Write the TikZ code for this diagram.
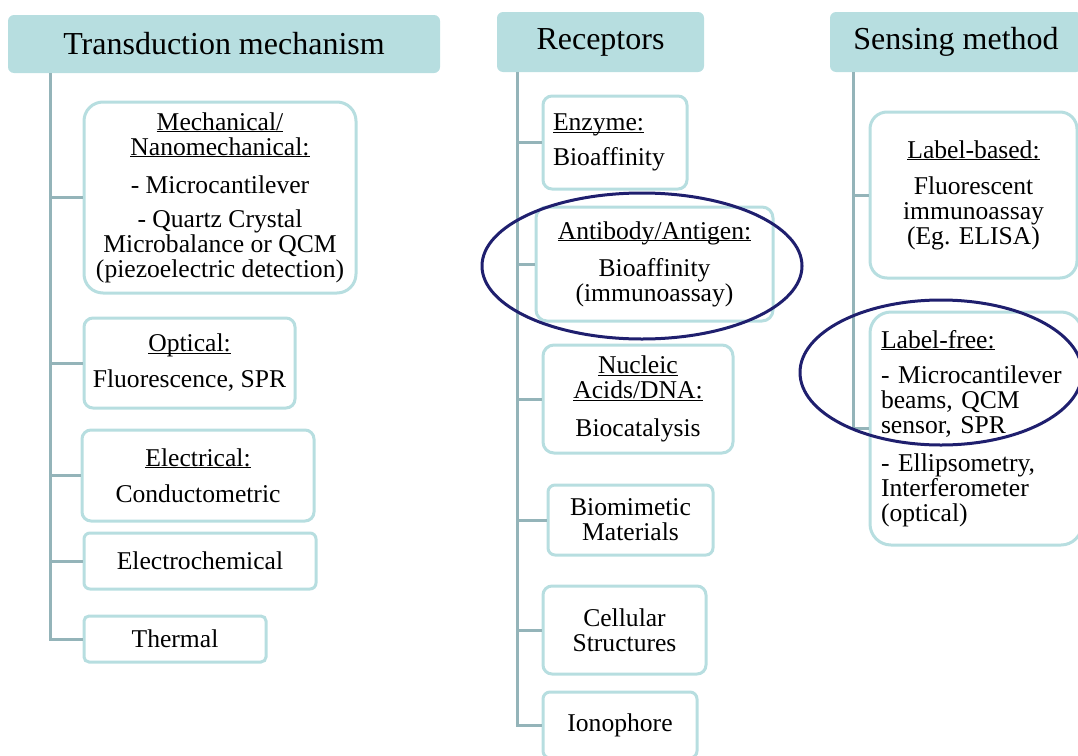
\documentclass[tikz,border=0pt]{standalone}
\usepackage{fontspec}
\setmainfont{Liberation Serif}
\usetikzlibrary{shapes.geometric}
\definecolor{tealfill}{HTML}{B7DEE0}
\definecolor{trunkcol}{HTML}{94B4B9}
\definecolor{ringcol}{HTML}{1F1F6E}
\newcommand{\hd}[1]{\underline{\raisebox{0pt}[\height][0pt]{#1}}}

\begin{document}
\begin{tikzpicture}[x=1pt,y=-1pt,
    every node/.style={font=\fontsize{25.6}{25}\selectfont, inner sep=0pt},
    head/.style={fill=tealfill, rounded corners=6pt, font=\fontsize{32}{32}\selectfont},
    box/.style={draw=tealfill, line width=3pt, fill=white, align=center},
    trunk/.style={draw=trunkcol, line width=3pt},
    ring/.style={draw=ringcol, line width=3pt, ellipse}]
  \useasboundingbox (0,0) rectangle (1078,755);
  \clip (0,0) rectangle (1078,755);
  % headers
  \node[head, minimum width=432pt, minimum height=58pt] (hTrans) at (224,44) {Transduction mechanism};
  \node[head, minimum width=207pt, minimum height=60pt] (hRec) at (600.5,42) {Receptors};
  \node[head, minimum width=252pt, minimum height=60pt] (hSens) at (956,42) {Sensing method};
  % transduction mechanism
  \node[box, rounded corners=19pt, minimum width=272pt, minimum height=191pt] (mech) at (220,197.5)
    {\hd{Mechanical/}\\ \hd{Nanomechanical:}\\[13pt] - Microcantilever\\[9pt] - Quartz Crystal\\ Microbalance or QCM\\ (piezoelectric detection)};
  \node[box, rounded corners=9pt, minimum width=211pt, minimum height=90pt] (opt) at (189.5,363)
    {\hd{Optical:}\\[11pt] Fluorescence, SPR};
  \node[box, rounded corners=9pt, minimum width=232pt, minimum height=91pt] (elec) at (198,475.5)
    {\hd{Electrical:}\\[11pt] Conductometric};
  \node[box, rounded corners=6pt, minimum width=232pt, minimum height=56pt] (echem) at (200,561) {Electrochemical};
  \node[box, rounded corners=5pt, minimum width=182pt, minimum height=46pt] (therm) at (175,639) {Thermal};
  % receptors
  \node[box, rounded corners=9pt, minimum width=144pt, minimum height=93pt, align=left, text width=124pt] (enz) at (615,142.5)
    {\hd{Enzyme:}\\[10pt] Bioaffinity};
  \node[box, rounded corners=11pt, minimum width=237pt, minimum height=114pt] (anti) at (654.5,264)
    {\hd{Antibody/Antigen:}\\[12pt] Bioaffinity\\ (immunoassay)};
  \node[box, rounded corners=11pt, minimum width=190pt, minimum height=108pt] (nuc) at (638,399)
    {\hd{Nucleic}\\ \hd{Acids/DNA:}\\[13pt] Biocatalysis};
  \node[box, rounded corners=7pt, minimum width=165pt, minimum height=70pt] (biom) at (630.5,520) {Biomimetic\\ Materials};
  \node[box, rounded corners=9pt, minimum width=163pt, minimum height=88pt] (cell) at (624.5,630) {Cellular\\ Structures};
  \node[box, rounded corners=7pt, minimum width=154pt, minimum height=66pt] (iono) at (620,725) {Ionophore};
  % sensing method
  \node[box, rounded corners=17pt, minimum width=207pt, minimum height=166pt] (lbased) at (973.5,195)
    {\hd{Label-based:}\\[11pt] Fluorescent\\ immunoassay\\ (Eg. ELISA)};
  \node[box, rounded corners=21pt, minimum width=212pt, minimum height=233pt, align=left, text width=190pt] (lfree) at (976,428.5)
    {\hd{Label-free:}\\[10pt] - Microcantilever\\ beams, QCM\\ sensor, SPR\\[13pt] - Ellipsometry,\\ Interferometer\\ (optical)};
  % trunks
  \coordinate (t1) at (50,73);
  \coordinate (t2) at (517,72);
  \coordinate (t3) at (853,72);
  \draw[trunk] (t1) |- (therm.west);
  \draw[trunk] (t1 |- mech.west) -- (mech.west);
  \draw[trunk] (t1 |- opt.west) -- (opt.west);
  \draw[trunk] (t1 |- elec.west) -- (elec.west);
  \draw[trunk] (t1 |- echem.west) -- (echem.west);
  \draw[trunk] (t2) |- (iono.west);
  \draw[trunk] (t2 |- enz.west) -- (enz.west);
  \draw[trunk] (t2 |- anti.west) -- (anti.west);
  \draw[trunk] (t2 |- nuc.west) -- (nuc.west);
  \draw[trunk] (t2 |- biom.west) -- (biom.west);
  \draw[trunk] (t2 |- cell.west) -- (cell.west);
  \draw[trunk] (t3) |- (lfree.west);
  \draw[trunk] (t3 |- lbased.west) -- (lbased.west);
  % highlights
  \node[ring, minimum width=320pt, minimum height=146pt] (ringAnti) at (642,266) {};
  \node[ring, minimum width=282pt, minimum height=145pt] (ringFree) at (941,372.5) {};
\end{tikzpicture}
\end{document}
